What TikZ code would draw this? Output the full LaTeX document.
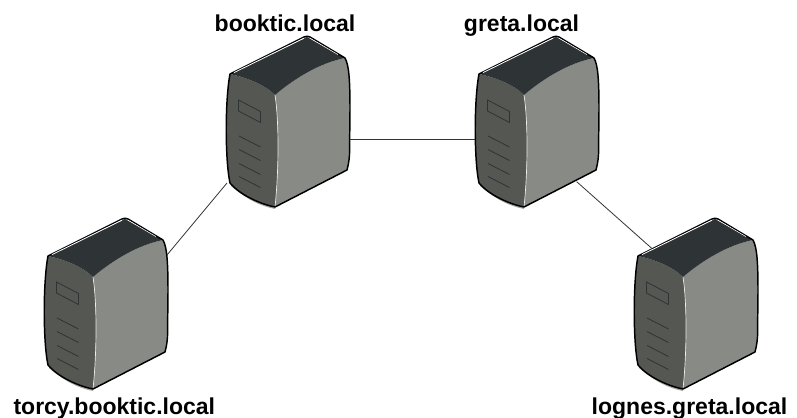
\documentclass[tikz,border=0pt]{standalone}
\usepackage{fontspec}
\setmainfont{Liberation Sans}
\definecolor{srvtop}{HTML}{2E3436}
\definecolor{srvleft}{HTML}{555753}
\definecolor{srvright}{HTML}{888A85}
\tikzset{
  srvbase/.style={shape=rectangle, minimum width=93pt, minimum height=129pt, inner sep=0pt},
  srvedge/.style={draw=black, line width=1.1pt, line join=round},
  srvmark/.style={draw=srvtop, line width=0.6pt},
  hostlabel/.style={font=\bfseries\fontsize{17.25}{19}\selectfont, inner sep=0pt, anchor=base},
  link/.style={draw=black!80, line width=0.6pt}
}
\def\serverbox(#1,#2,#3){
  \begin{scope}[shift={(#2,#3)}]
  \node[srvbase] (#1) at (78,92) {};
  \coordinate (#1-w) at (16.3,109.5);
  \coordinate (#1-e) at (140,109.5);
  \coordinate (#1-nw) at (33.7,36.3);
  \coordinate (#1-ne) at (139,43);
  \coordinate (#1-sw) at (17,153);
  \coordinate (#1-se) at (117.7,151.7);
  \fill[gray!70] (21,156) .. controls (38,170) and (50,176) .. (65,179) -- (65,176) -- (22,153) -- cycle;
  \fill[srvright] (65,65) .. controls (85,48) and (110,33) .. (135,28) .. controls (139,35) and (140,50) .. (140,80) -- (139.5,125) .. controls (139,132) and (138,136) .. (137,140) -- (65,177) .. controls (69,140) and (69,90) .. (65,65) -- cycle;
  \fill[srvleft] (20,44) .. controls (38,48) and (55,55) .. (65,65) .. controls (69,90) and (69,140) .. (65,177) .. controls (50,174) and (30,165) .. (20,153) .. controls (15,130) and (15,70) .. (20,44) -- cycle;
  \fill[srvtop] (20,44) -- (97,7) -- (135,28) .. controls (110,33) and (85,48) .. (65,65) .. controls (55,55) and (38,48) .. (20,44) -- cycle;
  \draw[white!85!srvright, line width=0.5pt] (65,65) .. controls (69,90) and (69,140) .. (65,177);
  \draw[srvedge] (20,44) -- (94,7) .. controls (96,6) and (98,6) .. (100,7) -- (135,28) .. controls (139,35) and (140,50) .. (140,80) -- (139.5,125) .. controls (139,132) and (138,136) .. (137,140) -- (65,177) .. controls (50,174) and (30,165) .. (20,153) .. controls (15,130) and (15,70) .. (20,44) -- cycle;
  \draw[white, line width=0.6pt] (24,42.6) -- (94,8.2);
  \draw[white, line width=0.4pt] (100,8.2) -- (128,24.6);
  \draw[srvmark] (28.5,70) -- (50.5,81.5) -- (50.5,92.5) -- (28.5,81) -- cycle;
  \foreach \slaty in {106,119.5,133.5,146.5}
    \draw[srvmark] (29,\slaty) -- (50.5,\slaty+11);
  \end{scope}
}
\begin{document}
\begin{tikzpicture}[x=0.75pt, y=-0.75pt]
\useasboundingbox (0,0) rectangle (797,418);
\serverbox(booktic,210,30)
\serverbox(greta,459,30)
\serverbox(torcy,28,212)
\serverbox(lognes,618,212)
\draw[link] (booktic-e) -- (greta-w);
\draw[link] (booktic-sw) -- (torcy-ne);
\draw[link] (greta-se) -- (lognes-nw);
\node[hostlabel] (lbl_booktic) at (285,31) {booktic.local};
\node[hostlabel] (lbl_greta) at (521.5,31) {greta.local};
\node[hostlabel] (lbl_torcy) at (114.3,414) {torcy.booktic.local};
\node[hostlabel] (lbl_lognes) at (689.5,414) {lognes.greta.local};
\end{tikzpicture}
\end{document}
